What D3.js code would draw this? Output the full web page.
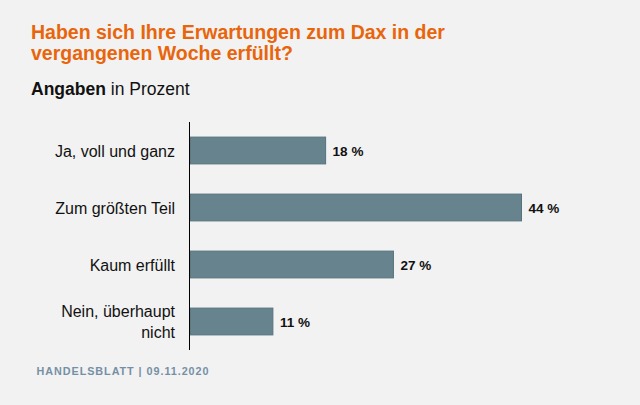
<!DOCTYPE html>
<html><head><meta charset="utf-8">
<script src="https://cdn.jsdelivr.net/npm/d3@7"></script>
<style>
html,body{margin:0;padding:0;background:#f2f2f2;}
svg{display:block;font-family:"Liberation Sans",Arial,sans-serif;}
</style></head>
<body>
<script>
const categories = [["Ja, voll und ganz"], ["Zum größten Teil"], ["Kaum erfüllt"], ["Nein, überhaupt", "nicht"]];
const values = [18, 44, 27, 11];
const valueLabels = ["18 %", "44 %", "27 %", "11 %"];
const titleLines = ["Haben sich Ihre Erwartungen zum Dax in der", "vergangenen Woche erfüllt?"];
const footer = "HANDELSBLATT | 09.11.2020";

const W = 640, H = 405;
const svg = d3.select("body").append("svg").attr("width", W).attr("height", H);
svg.append("rect").attr("width", W).attr("height", H).attr("fill", "#f2f2f2");

const title = svg.append("text").attr("x", 31).attr("y", 39)
  .attr("fill", "#e8650c").attr("font-weight", "bold").attr("font-size", 19.5);
titleLines.forEach((l, i) => title.append("tspan").attr("x", 31).attr("dy", i ? 21 : 0).text(l));

const sub = svg.append("text").attr("x", 31).attr("y", 95).attr("font-size", 17.5).attr("fill", "#111");
sub.append("tspan").attr("font-weight", "bold").text("Angaben");
sub.append("tspan").text(" in Prozent");

const x = d3.scaleLinear().domain([0, 44]).range([190, 521.5]);
const y = d3.scaleBand().domain(d3.range(values.length)).range([122, 350]).paddingInner(0.53).paddingOuter(0.265);

svg.selectAll("rect.bar").data(values).join("rect").attr("class", "bar")
  .attr("x", x(0)).attr("y", (d, i) => y(i))
  .attr("width", d => x(d) - x(0)).attr("height", y.bandwidth())
  .attr("fill", "#67838e").attr("stroke", "#55727d").attr("stroke-width", 1);

svg.append("line").attr("x1", 189.5).attr("x2", 189.5).attr("y1", 122).attr("y2", 350)
  .attr("stroke", "#000").attr("stroke-width", 1);

svg.selectAll("text.cat").data(categories).join("text").attr("class", "cat")
  .attr("text-anchor", "end").attr("font-size", 16).attr("fill", "#111")
  .each(function (lines, i) {
    const cy = y(i) + y.bandwidth() / 2;
    const lh = 20.5;
    const t = d3.select(this);
    lines.forEach((l, j) => t.append("tspan").attr("x", 175)
      .attr("y", cy + 6 + (j - (lines.length - 1) / 2) * lh).text(l));
  });

svg.selectAll("text.val").data(values).join("text").attr("class", "val")
  .attr("x", d => x(d) + 7).attr("y", (d, i) => y(i) + y.bandwidth() / 2 + 5)
  .attr("font-size", 13.5).attr("font-weight", "bold").attr("fill", "#111")
  .text((d, i) => valueLabels[i]);

svg.append("text").attr("x", 36.5).attr("y", 375).attr("font-size", 10.8).attr("font-weight", "bold")
  .attr("letter-spacing", 0.95).attr("fill", "#7590a5").text(footer);
</script>
</body></html>
